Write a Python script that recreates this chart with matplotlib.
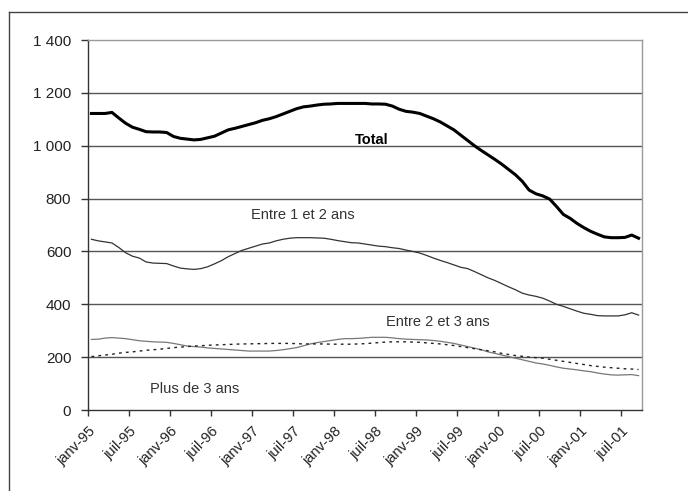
import numpy as np
import matplotlib
matplotlib.use("Agg")
from matplotlib import pyplot as plt
from matplotlib.lines import Line2D

plt.rcParams['font.family'] = ['Liberation Sans', 'DejaVu Sans']

# mois de janv-95 a sept-01 (81 points)
mois = ['janv', 'févr', 'mars', 'avr', 'mai', 'juin', 'juil', 'août', 'sept', 'oct', 'nov', 'déc']
dates = [f"{m}-{a:02d}" for a in [95, 96, 97, 98, 99, 0, 1] for m in mois][:81]

total = [1122, 1122, 1122, 1126, 1105, 1085, 1070, 1062, 1053, 1052, 1052, 1050,
         1035, 1028, 1025, 1022, 1024, 1030, 1036, 1048, 1060, 1066, 1073, 1080,
         1087, 1096, 1102, 1110, 1120, 1130, 1140, 1147, 1150, 1154, 1157, 1158,
         1160, 1160, 1160, 1160, 1160, 1158, 1158, 1157, 1150, 1138, 1130, 1127,
         1122, 1112, 1102, 1090, 1075, 1060, 1040, 1020, 1000, 982, 965, 948,
         930, 910, 890, 865, 832, 818, 810, 798, 770, 740, 725, 706,
         690, 676, 665, 655, 652, 652, 653, 662, 650]
entre_1_2 = [646, 640, 636, 632, 615, 595, 582, 575, 560, 556, 555, 554,
             545, 537, 534, 532, 535, 542, 553, 565, 580, 592, 604, 612,
             620, 628, 632, 640, 646, 650, 652, 652, 652, 651, 650, 646,
             641, 637, 633, 632, 628, 624, 620, 618, 614, 611, 605, 600,
             594, 585, 575, 566, 558, 549, 540, 535, 524, 512, 500, 490,
             478, 466, 455, 442, 435, 430, 423, 412, 400, 392, 383, 374,
             366, 362, 357, 356, 356, 356, 360, 368, 359]
entre_2_3 = [267, 268, 272, 274, 272, 270, 266, 262, 260, 258, 257, 256,
             252, 247, 242, 240, 238, 235, 233, 231, 229, 227, 225, 223,
             223, 223, 223, 225, 228, 232, 236, 243, 250, 255, 259, 263,
             267, 270, 270, 271, 273, 275, 275, 275, 273, 270, 268, 267,
             266, 265, 263, 260, 256, 252, 246, 240, 234, 228, 220, 214,
             208, 202, 196, 190, 184, 178, 174, 169, 163, 158, 155, 152,
             148, 145, 140, 136, 133, 132, 133, 134, 130]
plus_3 = [202, 205, 208, 211, 215, 218, 220, 223, 226, 228, 230, 233,
          236, 238, 240, 242, 243, 245, 246, 247, 248, 249, 250, 250,
          251, 251, 252, 252, 252, 252, 251, 250, 250, 250, 250, 249,
          249, 249, 249, 250, 251, 253, 255, 257, 258, 258, 258, 257,
          256, 254, 252, 250, 247, 244, 240, 236, 232, 228, 224, 220,
          214, 210, 206, 203, 200, 198, 196, 192, 188, 184, 180, 176,
          172, 168, 165, 162, 160, 158, 156, 155, 153]

x = np.arange(len(dates))

fig = plt.figure(figsize=(6.88, 4.91), dpi=100)
ax = fig.add_axes([88 / 688, 1 - 410 / 491, 554 / 688, 370 / 491])

# cadre exterieur
fig.add_artist(Line2D([9 / 688, 9 / 688], [0, 1 - 12 / 491], transform=fig.transFigure, color='#444444', lw=1))
fig.add_artist(Line2D([9 / 688, 1], [1 - 12 / 491, 1 - 12 / 491], transform=fig.transFigure, color='#444444', lw=1))

for v in range(200, 1400, 200):
    ax.axhline(v, color='#555555', lw=1.0, zorder=1)

ax.plot(x, total, color='black', lw=2.2, zorder=5)
ax.plot(x, entre_1_2, color='#333333', lw=0.9, zorder=4)
ax.plot(x, entre_2_3, color='#777777', lw=0.9, zorder=4)
ax.plot(x, plus_3, color='#222222', lw=1.0, ls=(0, (2, 3)), zorder=4)

ax.set_xlim(-0.5, 80.5)
ax.set_ylim(0, 1400)
ax.set_yticks(range(0, 1401, 200))
ax.set_yticklabels([f"{v:,}".replace(',', ' ') for v in range(0, 1401, 200)],
                   fontsize=11, color='#222222')
ax.set_xticks(np.arange(-0.5, 80, 6))
ax.set_xticklabels(dates[::6], rotation=45, ha='right', va='top', rotation_mode='anchor',
                   fontsize=10.5, color='#222222')
ax.tick_params(axis='y', length=5, width=1, color='#333333', pad=7)
ax.tick_params(axis='x', length=4, width=1, color='#333333', pad=6)

for s in ['top', 'right']:
    ax.spines[s].set_color('#999999')
    ax.spines[s].set_linewidth(1)
for s in ['left', 'bottom']:
    ax.spines[s].set_color('#333333')
    ax.spines[s].set_linewidth(1)

ax.text(41, 995, 'Total', fontsize=10.5, fontweight='bold', ha='center', va='bottom')
ax.text(23.3, 738, 'Entre 1 et 2 ans', fontsize=10.5, color='#333333', va='center')
ax.text(43, 333, 'Entre 2 et 3 ans', fontsize=10.5, color='#333333', va='center')
ax.text(8.5, 80, 'Plus de 3 ans', fontsize=10.5, color='#333333', va='center')

plt.savefig('out.png', dpi=100)
